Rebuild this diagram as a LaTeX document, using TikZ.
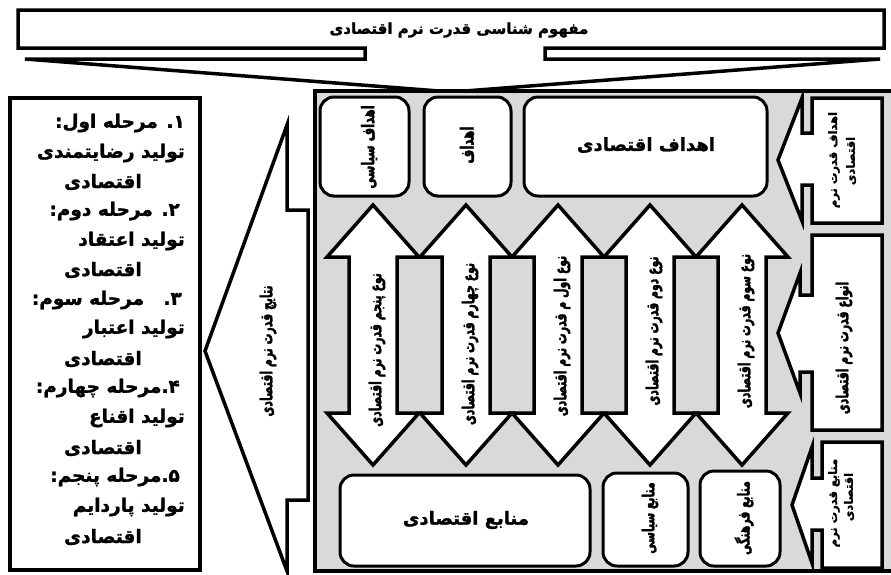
\documentclass[tikz,border=0pt]{standalone}
\usepackage{fontspec}
\newfontfamily\fa[Script=Arabic, BoldFeatures={FakeBold=1.5}]{DejaVu Sans}
\newfontfamily\fav[Script=Arabic, FakeStretch=0.66, BoldFeatures={FakeBold=1.8}]{DejaVu Sans}
\TeXXeTstate=1
\newcommand\RTLtxt[1]{\beginR #1\endR}
\definecolor{panelgray}{RGB}{217,217,217}
\tikzset{
  heavy/.style={draw=black, line width=3.5pt, line join=miter, fill=white},
  roundbox/.style={draw=black, line width=3pt, fill=white, rounded corners=14pt},
  fatxt/.style={font=\fa\bfseries\fontsize{18}{20}\selectfont, inner sep=0pt},
  vtxt/.style={font=\fav\bfseries\fontsize{16.5}{18}\selectfont, inner sep=0pt, rotate=90},
  smallv/.style={font=\fa\bfseries\fontsize{11.5}{13}\selectfont, inner sep=0pt, rotate=90},
  listtxt/.style={font=\fa\bfseries\fontsize{18.5}{20}\selectfont, inner sep=0pt},
}
\begin{document}
\begin{tikzpicture}[x=1pt,y=-1pt]
\useasboundingbox (0,0) rectangle (891,574);
% top callout
\draw[heavy] (18,10) -- (884,10) -- (884,48) -- (545,48) -- (545,59) -- (880,59)
  -- (452,92) -- (25,59) -- (365,59) -- (365,48) -- (18,48) -- cycle;
\node[fatxt, font=\fa\bfseries\fontsize{15}{17}\selectfont] (title) at (459,30) {\RTLtxt{مفهوم شناسی قدرت نرم اقتصادی}};
% main panel
\draw[draw=black, line width=3.5pt, fill=panelgray] (315,91) rectangle (900,571);
% left list box
\draw[heavy] (10,98) rectangle (200,570);
\foreach \ypos/\xr/\txt [count=\i] in {
  123/185/{۱. مرحله اول:},
  153/185/{تولید رضایتمندی},
  182/142/{اقتصادی},
  211/180/{۲. مرحله دوم:},
  241/185/{تولید اعتقاد},
  270/142/{اقتصادی},
  300/182/{۳.\ \ \ مرحله سوم:},
  329/185/{تولید اعتبار},
  359/142/{اقتصادی},
  388/180/{۴.مرحله چهارم:},
  418/185/{تولید اقناع},
  448/142/{اقتصادی},
  477/180/{۵.مرحله پنجم:},
  507/185/{تولید پاردایم},
  537/142/{اقتصادی}}
  \node[listtxt, anchor=east] (list\i) at (\xr,\ypos) {\RTLtxt{\txt}};
% left results arrow
\draw[heavy] (308,210) -- (287,210) -- (287,125) -- (205,351) -- (287,571)
  -- (287,500) -- (308,500) -- cycle;
\node[vtxt] (results) at (268,351) {\RTLtxt{نتایج قدرت نرم اقتصادی}};
% right callouts
\draw[heavy] (812,185) -- (812,223) -- (882,223) -- (882,98) -- (812,98) -- (812,133)
  -- (802,133) -- (802,98) -- (778,160) -- (802,221) -- (802,185) -- cycle;
\node[smallv] (goalsA) at (834,160) {\RTLtxt{اهداف قدرت نرم}};
\node[smallv] (goalsB) at (851,161) {\RTLtxt{اقتصادی}};
\draw[heavy] (812,372) -- (812,430) -- (882,430) -- (882,235) -- (812,235) -- (812,295)
  -- (800,295) -- (800,273) -- (778,333) -- (800,393) -- (800,372) -- cycle;
\node[vtxt] (types) at (844,348) {\RTLtxt{انواع قدرت نرم اقتصادی}};
\draw[heavy] (822,530) -- (822,568) -- (882,568) -- (882,442) -- (822,442) -- (822,478)
  -- (812,478) -- (812,447) -- (792,505) -- (812,563) -- (812,530) -- cycle;
\node[smallv] (srcA) at (834,503) {\RTLtxt{منابع قدرت نرم}};
\node[smallv] (srcB) at (849,497) {\RTLtxt{اقتصادی}};
% double arrows
\foreach \c/\ty/\txt [count=\i] in {
  373/350/{نوع پنجم قدرت نرم اقتصادی},
  466/344/{نوع چهارم قدرت نرم اقتصادی},
  558/336/{نوع اول م قدرت نرم اقتصادی},
  650/331/{نوع دوم قدرت نرم اقتصادی},
  742/331/{نوع سوم قدرت نرم اقتصادی}} {
  \draw[heavy] (\c,205) -- (\c+46,257) -- (\c+24,257) -- (\c+24,413) -- (\c+46,413)
    -- (\c,465) -- (\c-46,413) -- (\c-24,413) -- (\c-24,257) -- (\c-46,257) -- cycle;
  \node[vtxt] (type\i) at (\c+4,\ty) {\RTLtxt{\txt}};
}
% top row boxes
\draw[roundbox] (320,97) rectangle (409,196);
\node[vtxt, font=\fav\bfseries\fontsize{17.5}{19}\selectfont] (polgoal) at (369,147) {\RTLtxt{اهداف سیاسی}};
\draw[roundbox] (424,97) rectangle (511,196);
\node[vtxt, font=\fav\bfseries\fontsize{18}{19}\selectfont] (goal) at (467,145) {\RTLtxt{اهداف}};
\draw[roundbox] (524,97) rectangle (767,196);
\node[fatxt] (ecogoal) at (646,145) {\RTLtxt{اهداف اقتصادی}};
% bottom row boxes
\draw[roundbox] (340,475) rectangle (590,566);
\node[fatxt] (ecosrc) at (466,520) {\RTLtxt{منابع اقتصادی}};
\draw[roundbox] (603,473) rectangle (688,566);
\node[vtxt] (polsrc) at (650,518) {\RTLtxt{منابع سیاسی}};
\draw[roundbox] (700,471) rectangle (780,566);
\node[vtxt] (cultsrc) at (744,518) {\RTLtxt{منابع فرهنگی}};
\end{tikzpicture}
\end{document}
